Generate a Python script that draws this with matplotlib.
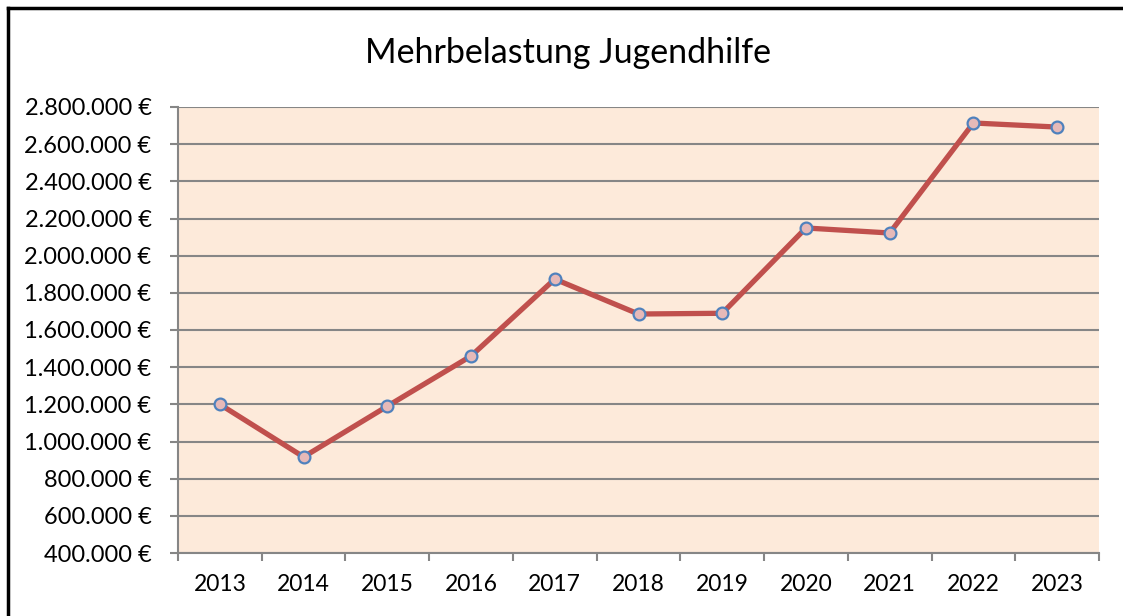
import matplotlib
matplotlib.use('Agg')
import matplotlib.pyplot as plt
from matplotlib.lines import Line2D

plt.rcParams['font.family'] = ['Lato', 'DejaVu Sans']

# Daten
jahre = ['2013', '2014', '2015', '2016', '2017', '2018', '2019', '2020', '2021', '2022', '2023']
mehrbelastung = [1200000, 917000, 1190000, 1460000, 1874000, 1686000, 1690000,
                 2149000, 2122000, 2714000, 2692000]
y_ticks = [400000, 600000, 800000, 1000000, 1200000, 1400000, 1600000, 1800000,
           2000000, 2200000, 2400000, 2600000, 2800000]

fig = plt.figure(figsize=(11.23, 6.16), dpi=100)
ax = fig.add_axes([178/1123, 63/616, 921/1123, 446/616])
ax.set_facecolor('#FDEADA')

x = list(range(len(jahre)))
ax.plot(x, mehrbelastung, color='#C0504D', lw=3.8, marker='o', ms=8.5,
        mfc='#E6B9B8', mec='#4F81BD', mew=1.6, zorder=3, clip_on=False)

ax.set_ylim(400000, 2800000)
ax.set_xlim(-0.5, len(jahre) - 0.5)
ax.set_yticks(y_ticks)
ax.set_yticklabels([f"{v:,.0f}".replace(',', '.') + ' €' for v in y_ticks], fontsize=17)
ax.set_xticks(x)
ax.set_xticklabels(jahre, fontsize=16.5)
ax.set_xticks([i - 0.5 for i in range(len(jahre) + 1)], minor=True)
ax.tick_params(axis='x', which='major', length=0, pad=15)
ax.tick_params(axis='x', which='minor', length=6, width=1.5, color='#868686')
ax.tick_params(axis='y', length=6, width=1.5, color='#868686', pad=13)

ax.grid(axis='y', color='#868686', lw=1.5, zorder=1)
ax.set_axisbelow(True)
for s in ['top', 'right']:
    ax.spines[s].set_visible(False)
for s in ['left', 'bottom']:
    ax.spines[s].set_color('#868686')
    ax.spines[s].set_linewidth(1.5)

fig.text(568/1123, 1 - 53/616, 'Mehrbelastung Jugendhilfe', ha='center', va='center', fontsize=24.5)

# Rahmen links und oben
fig.add_artist(Line2D([7.5/1123, 7.5/1123], [0, 1 - 7.5/616], color='black', lw=2.5,
                      transform=fig.transFigure))
fig.add_artist(Line2D([7.5/1123, 1], [1 - 7.5/616, 1 - 7.5/616], color='black', lw=2.5,
                      transform=fig.transFigure))

fig.savefig('out.png', dpi=100)
